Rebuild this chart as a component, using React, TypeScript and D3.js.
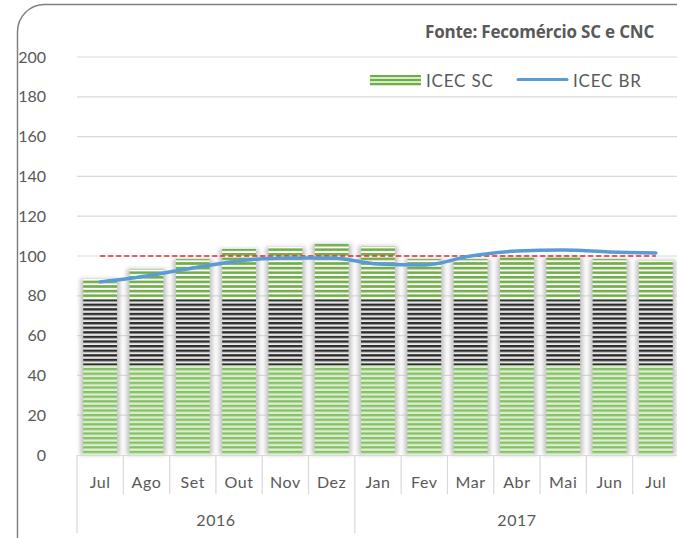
import React from 'react'
import * as d3 from 'd3'

const months = ['Jul', 'Ago', 'Set', 'Out', 'Nov', 'Dez', 'Jan', 'Fev', 'Mar', 'Abr', 'Mai', 'Jun', 'Jul']
const years = ['2016', '2017']
const yearSpan = [6, 7]
const icecSC = [88.5, 93.5, 98.5, 103.5, 104.5, 106, 105, 98.5, 98.5, 99.5, 99.5, 98.5, 98]
const icecBR = [87, 90, 94, 97.5, 99, 99, 96, 95.5, 100, 102.5, 103, 102, 101.5]
const yTicks = [0, 20, 40, 60, 80, 100, 120, 140, 160, 180, 200]
const refLine = 100
const bandLow = 45
const bandHigh = 78

const W = 677
const H = 538
const font = 'Lato, "Open Sans", sans-serif'
const grey = '#595959'

function App() {
  const x = d3.scaleBand<number>().domain(months.map((_, i) => i)).range([77, 679])
  const y = d3.scaleLinear().domain([0, 200]).range([455, 57])
  const bw = x.bandwidth() * 0.73
  const cx = (i: number) => (x(i) as number) + x.bandwidth() / 2

  const line = d3.line<number>()
    .x((_, i) => cx(i))
    .y(d => y(d))
    .curve(d3.curveMonotoneX)

  let acc = 0
  const groups = years.map((yr, k) => {
    const start = acc
    acc += yearSpan[k]
    return { yr, start, end: acc }
  })

  return (
    <svg width={W} height={H} style={{ position: 'absolute', left: 0, top: 0, background: '#fff' }}>
      <defs>
        <pattern id="gDark" patternUnits="userSpaceOnUse" width={10} height={4.6}>
          <rect width={10} height={4.6} fill="#fff" />
          <rect width={10} height={2.6} fill="#70ad47" />
        </pattern>
        <pattern id="gLight" patternUnits="userSpaceOnUse" width={10} height={4.6}>
          <rect width={10} height={4.6} fill="#dcefd2" />
          <rect width={10} height={2.3} fill="#86c065" />
        </pattern>
        <pattern id="blk" patternUnits="userSpaceOnUse" width={10} height={4.6}>
          <rect width={10} height={4.6} fill="#d4d4d4" />
          <rect width={10} height={2.3} fill="#2b2b2b" />
          <rect y={3.4} width={10} height={0.8} fill="#fff" />
        </pattern>
        <pattern id="legG" patternUnits="userSpaceOnUse" width={10} height={4} y={75}>
          <rect width={10} height={4} fill="#d6ebc8" />
          <rect width={10} height={2} fill="#70ad47" />
        </pattern>
        <filter id="blur" x="-50%" y="-10%" width="200%" height="120%">
          <feGaussianBlur stdDeviation={2} />
        </filter>
      </defs>

      <rect x={17.5} y={4.5} width={720} height={620} rx={27} fill="#fff" stroke="#808080" strokeWidth={1.5} />

      <text x={425} y={38} fontFamily='"Open Sans", Lato, sans-serif' fontWeight="bold" fontSize={17}
        letterSpacing={-0.2} fill={grey}>Fonte: Fecomércio SC e CNC</text>

      {yTicks.map(t => (
        <g key={t}>
          {t > 0 && <line x1={77} x2={W} y1={y(t)} y2={y(t)} stroke="#d9d9d9" strokeWidth={1.2} />}
          <text x={46} y={y(t) + 5.5} textAnchor="end" fontFamily={font} fontSize={16} fill={grey}>{t}</text>
        </g>
      ))}

      {icecSC.map((v, i) => {
        const bx = cx(i) - bw / 2
        return (
          <g key={i}>
            <rect x={bx - 3} y={y(v)} width={bw + 6} height={y(0) - y(v)} fill="#c4c4c4" filter="url(#blur)" />
            <rect x={bx} y={y(v)} width={bw} height={y(bandHigh) - y(v)} fill="url(#gDark)" />
            <rect x={bx} y={y(bandHigh)} width={bw} height={y(bandLow) - y(bandHigh)} fill="url(#blk)" />
            <rect x={bx} y={y(bandLow)} width={bw} height={y(0) - y(bandLow)} fill="url(#gLight)" />
          </g>
        )
      })}

      <line x1={cx(0)} x2={cx(months.length - 1)} y1={y(refLine)} y2={y(refLine)} stroke="#e8262b" strokeWidth={1.6} strokeDasharray="5,3" />
      <path d={line(icecBR) || ''} fill="none" stroke="#5b9bd5" strokeWidth={3.5} strokeLinecap="round" />

      <line x1={77} x2={W} y1={455.5} y2={455.5} stroke="#d9d9d9" strokeWidth={1.2} />
      {months.map((m, i) => (
        <g key={'m' + i}>
          {i > 0 && <line x1={x(i)} x2={x(i)} y1={455} y2={groups.some(g => g.start === i) ? 533 : 494} stroke="#d9d9d9" strokeWidth={1.2} />}
          <text x={cx(i)} y={488} textAnchor="middle" fontFamily={font} fontSize={16} letterSpacing={0.6} fill={grey}>{m}</text>
        </g>
      ))}
      <line x1={77} x2={77} y1={455} y2={533} stroke="#d9d9d9" strokeWidth={1.2} />
      {groups.map(g => (
        <text key={g.yr} x={((x(g.start) as number) + (x(g.end - 1) as number) + x.bandwidth()) / 2} y={526}
          textAnchor="middle" fontFamily={font} fontSize={16} letterSpacing={0.5} fill={grey}>{g.yr}</text>
      ))}

      <rect x={370} y={75} width={51} height={11} fill="url(#legG)" />
      <text x={426} y={87} fontFamily={font} fontSize={17} letterSpacing={0.8} fill={grey}>ICEC SC</text>
      <line x1={518} x2={567} y1={79.5} y2={79.5} stroke="#5b9bd5" strokeWidth={3} strokeLinecap="round" />
      <text x={573} y={87} fontFamily={font} fontSize={17} letterSpacing={0.8} fill={grey}>ICEC BR</text>
    </svg>
  )
}

export default App
